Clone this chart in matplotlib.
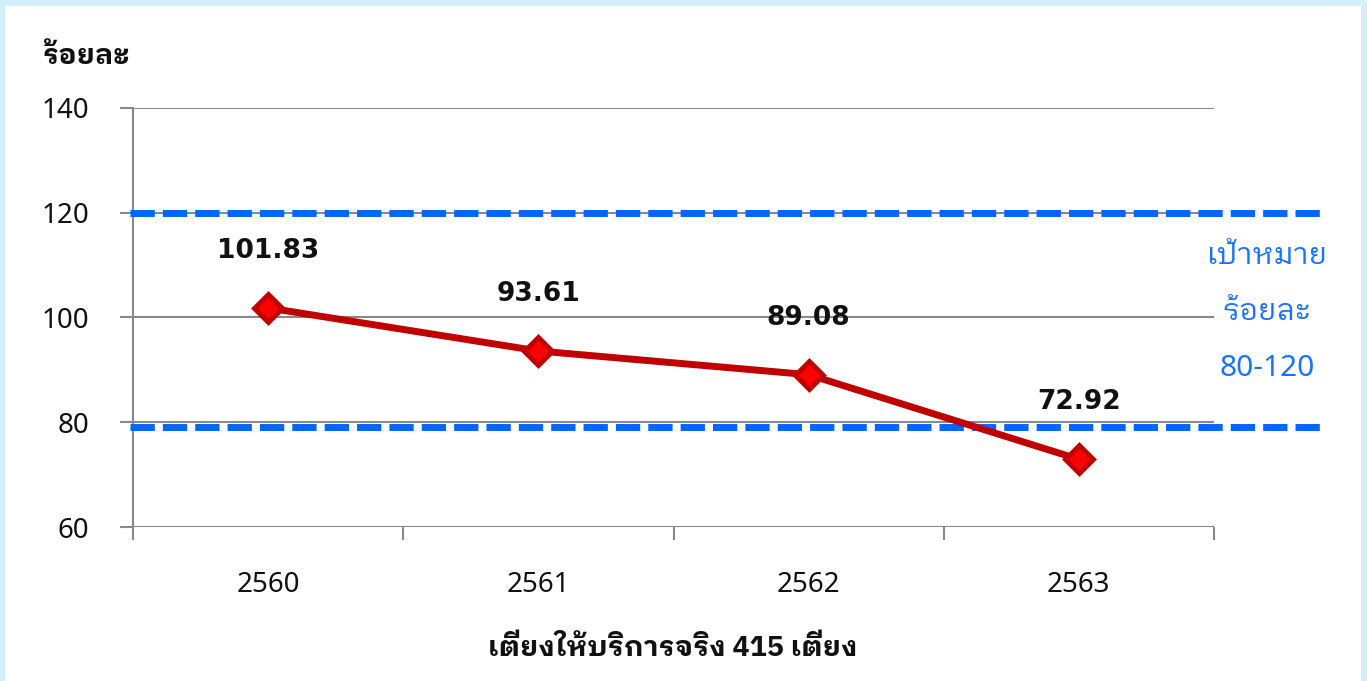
import matplotlib
matplotlib.use("Agg")
import matplotlib.pyplot as plt
from matplotlib import font_manager as fm
from matplotlib.patches import Rectangle
import matplotlib.transforms as mtransforms

# ---- data ----
years = ["2560", "2561", "2562", "2563"]
values = [101.83, 93.61, 89.08, 72.92]
value_labels = ["101.83", "93.61", "89.08", "72.92"]
target_high = 120
target_low = 79
y_ticks = [60, 80, 100, 120, 140]
y_title = "ร้อยละ"
x_title = "เตียงให้บริการจริง 415 เตียง"
target_text = ["เป้าหมาย", "ร้อยละ", "80-120"]

# ---- fonts ----
bold_names = {f.name for f in fm.fontManager.ttflist
              if (isinstance(f.weight, int) and f.weight >= 600)
              or str(f.weight) in ("bold", "semibold", "demibold", "heavy", "black")}
names = {f.name for f in fm.fontManager.ttflist}
pref = ["Noto Sans Thai Looped", "Noto Sans Thai UI", "Noto Sans Thai",
        "Leelawadee UI", "Tahoma", "IBM Plex Sans Thai Looped",
        "IBM Plex Sans Thai", "Loma", "Sarabun"]
thai = next((p for p in pref if p in bold_names), None) or \
    next((p for p in pref if p in names), "Loma")
FAM = ["Noto Sans", thai, "DejaVu Sans"]
THAI_BOLD = [thai, "DejaVu Sans"]
plt.rcParams['font.family'] = FAM

W, H = 1367, 681
fig = plt.figure(figsize=(W / 100, H / 100), dpi=100)
fig.patch.set_facecolor("#d3effc")
fig.patches.append(Rectangle((5 / W, 0), (1361 - 5) / W, 1 - 6 / H,
                             transform=fig.transFigure, facecolor="white",
                             edgecolor="none", zorder=-10))

ax = fig.add_axes([133 / W, 1 - 527 / H, (1214 - 133) / W, (527 - 108) / H])
ax.set_zorder(1)
ax.set_facecolor("none")
x = list(range(len(years)))
ax.set_xlim(-0.5, len(years) - 0.5)
ax.set_ylim(60, 140)

grey = "#898989"
for s in ["top", "right", "bottom"]:
    ax.spines[s].set_visible(False)
ax.spines["left"].set_color(grey)
ax.spines["left"].set_linewidth(1.5)

ax.set_yticks(y_ticks)
ax.set_yticklabels([str(v) for v in y_ticks])
ax.tick_params(axis="y", length=9.4, width=1.5, color=grey, labelsize=20,
               pad=22, labelcolor="#111111")
ax.yaxis.grid(True, color=grey, linewidth=1.5)
ax.set_axisbelow(True)

ax.set_xticks([i - 0.5 for i in range(len(years) + 1)])
ax.set_xticklabels([])
ax.set_xticks(x, minor=True)
ax.set_xticklabels(years, minor=True)
ax.tick_params(axis="x", which="major", length=9.4, width=1.5, color=grey,
               direction="out")
ax.tick_params(axis="x", which="minor", length=0, labelsize=20, pad=32,
               labelcolor="#111111")

# target dashed lines (extend past axes)
blend = mtransforms.blended_transform_factory(ax.transAxes, ax.transData)
xa0, xa1 = (130 - 133) / 1081, (1322 - 133) / 1081
for yv in (target_high, target_low):
    ax.plot([xa0, xa1], [yv, yv], transform=blend, color="#0066ff", lw=5,
            linestyle=(0, (3.5, 1.16)), clip_on=False, zorder=3,
            dash_capstyle="butt")

# data line
ax.plot(x, values, color="#c00000", lw=5, zorder=4, marker="D", ms=14,
        markerfacecolor="#ff0000", markeredgecolor="#c00000",
        markeredgewidth=3.5, solid_joinstyle="round", clip_on=False)
for xi, v, lab in zip(x, values, value_labels):
    ax.annotate(lab, (xi, v), xytext=(0, 41), textcoords="offset points",
                ha="center", va="center", fontsize=19, fontweight="bold",
                family=["DejaVu Sans"], color="#111111", zorder=5)

# titles
fig.text(42 / W, 1 - 56 / H, y_title, ha="left", va="center", fontsize=20.5,
         fontweight="bold", family=THAI_BOLD, color="#111111")
fig.text(673 / W, 1 - 648 / H, x_title, ha="center", va="center",
         fontsize=20.5, fontweight="bold", family=THAI_BOLD, color="#111111")

# target annotation
for t, yp in zip(target_text, [256, 312, 369]):
    fig.text(1267 / W, 1 - yp / H, t, ha="center", va="center", fontsize=21.5,
             color="#1a73ff")

fig.savefig("out.png", dpi=100, facecolor=fig.get_facecolor())
